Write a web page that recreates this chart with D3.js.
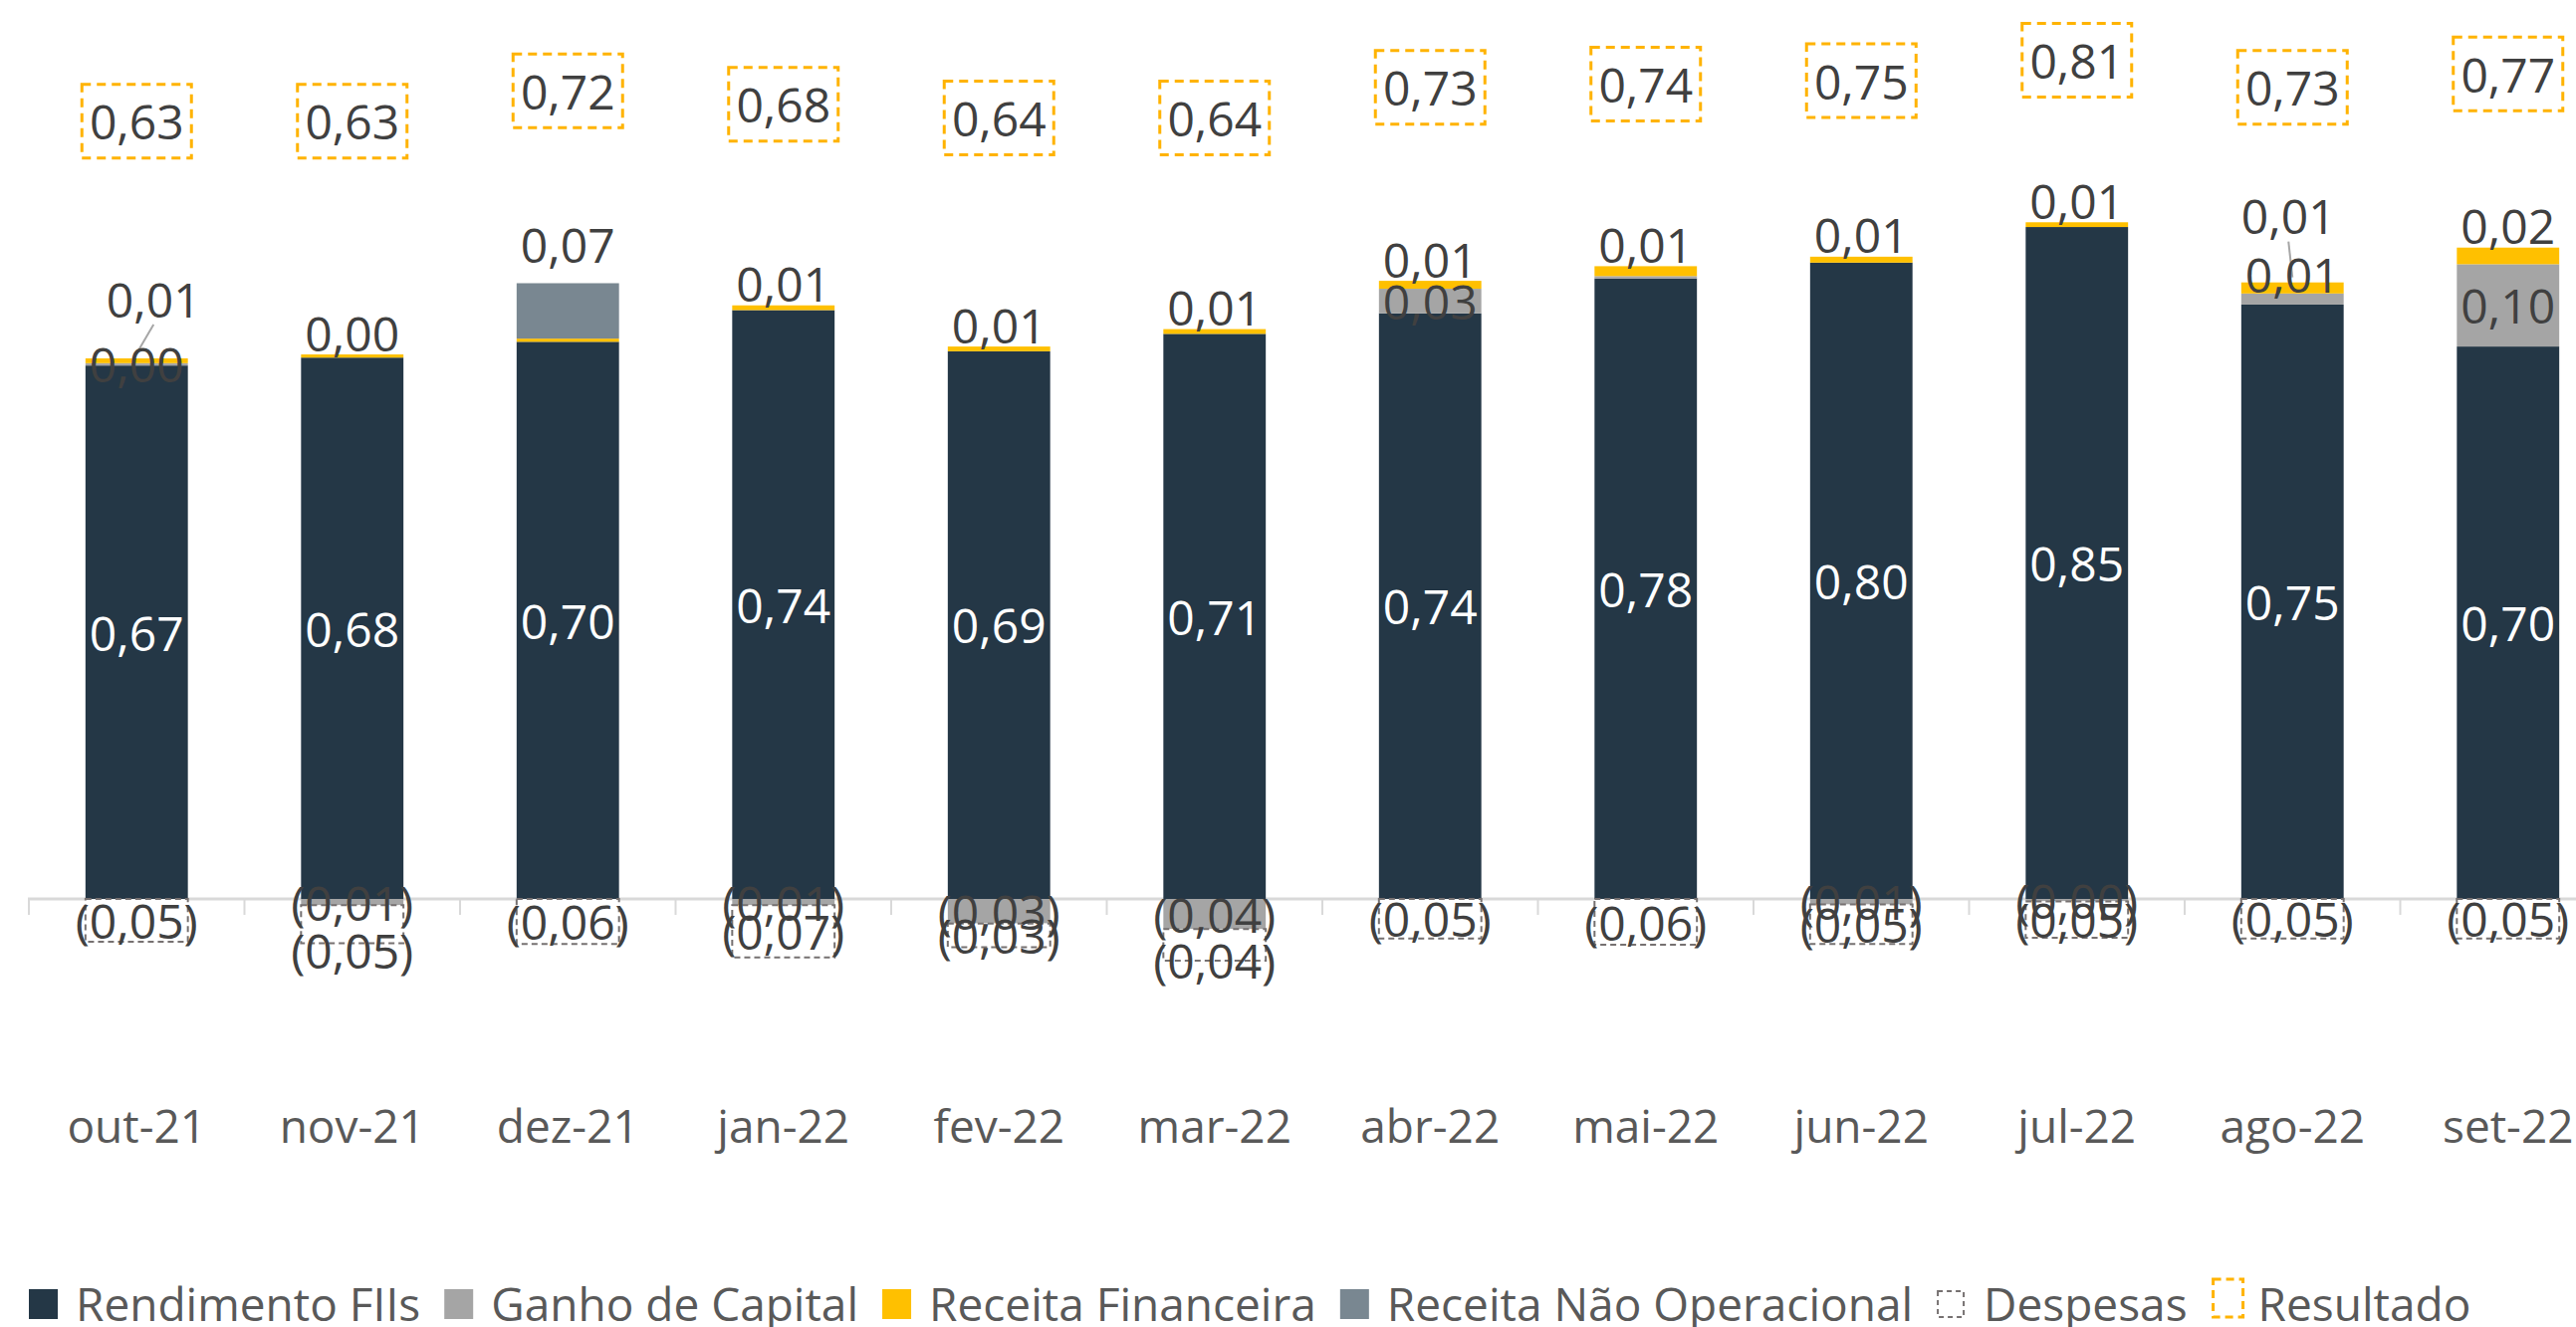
<!DOCTYPE html>
<html>
<head>
<meta charset="utf-8">
<style>
  body { margin: 0; background: #fff; }
  svg { display: block; font-family: "Open Sans", sans-serif; }
</style>
</head>
<body>
<svg id="chart"></svg>
<script src="https://cdn.jsdelivr.net/npm/d3@7"></script>
<script>
// data
const months = ["out-21", "nov-21", "dez-21", "jan-22", "fev-22", "mar-22", "abr-22", "mai-22", "jun-22", "jul-22", "ago-22", "set-22"];
const rendimento = [0.674, 0.684, 0.704, 0.744, 0.692, 0.714, 0.740, 0.784, 0.804, 0.849, 0.751, 0.698];
const ganhoCapital = [0.003, -0.008, 0, -0.008, -0.031, -0.038, 0.031, 0.003, -0.007, -0.003, 0.014, 0.104];
const receitaFin = [0.006, 0.004, 0.004, 0.006, 0.006, 0.006, 0.010, 0.0125, 0.0075, 0.006, 0.014, 0.021];
const receitaNaoOp = [0, 0, 0.070, 0, 0, 0, 0, 0, 0, 0, 0, 0];
const despesas = [-0.054, -0.048, -0.057, -0.066, -0.030, -0.040, -0.050, -0.058, -0.050, -0.046, -0.050, -0.050];
const resultado = [0.63, 0.63, 0.72, 0.68, 0.64, 0.64, 0.73, 0.74, 0.75, 0.81, 0.73, 0.77];

const W = 2587, H = 1333;
const svg = d3.select("#chart").attr("width", W).attr("height", H).attr("viewBox", `0 0 ${W} ${H}`);

const keys = ["rend", "ganho", "rf", "rno", "desp"];
const colors = { rend: "#243746", ganho: "#A5A5A5", rf: "#FFC000", rno: "#798791", desp: "none" };
const names = { rend: "Rendimento FIIs", ganho: "Ganho de Capital", rf: "Receita Financeira", rno: "Receita Não Operacional", desp: "Despesas", res: "Resultado" };

const table = months.map((m, i) => ({
  month: m, rend: rendimento[i], ganho: ganhoCapital[i], rf: receitaFin[i],
  rno: receitaNaoOp[i], desp: despesas[i], res: resultado[i]
}));

const stacked = d3.stack().keys(keys).offset(d3.stackOffsetDiverging)(table);

const x = d3.scaleBand().domain(months).range([29, 29 + 12 * 216.5]).paddingInner(0.525).paddingOuter(0.2625);
const y = d3.scaleLinear().domain([-0.1, 1]).range([903 + 79.5, 903 - 795]);
const y2 = d3.scaleLinear().domain([0, 1]).range([336, -4]);

const fmt = v => {
  const s = d3.format(".2f")(Math.abs(v)).replace(".", ",");
  return v < 0 ? "(" + s + ")" : s;
};

// axis line and ticks
const step = x.step();
svg.append("line").attr("x1", 28).attr("x2", W).attr("y1", y(0)).attr("y2", y(0))
  .attr("stroke", "#D9D9D9").attr("stroke-width", 3);
svg.append("g").selectAll("line").data(months).enter().append("line")
  .attr("x1", d => x(d) - (step - x.bandwidth()) / 2)
  .attr("x2", d => x(d) - (step - x.bandwidth()) / 2)
  .attr("y1", y(0)).attr("y2", y(0) + 16)
  .attr("stroke", "#D9D9D9").attr("stroke-width", 2);

// bars
const series = svg.append("g").selectAll("g").data(stacked).enter().append("g");
series.selectAll("rect").data(s => s.map(p => ({ key: s.key, p }))).enter()
  .filter(d => d.p.data[d.key] !== 0)
  .append("rect")
  .attr("x", d => x(d.p.data.month))
  .attr("width", x.bandwidth())
  .attr("y", d => y(Math.max(d.p[0], d.p[1])))
  .attr("height", d => Math.abs(y(d.p[0]) - y(d.p[1])))
  .attr("fill", d => d.key === "desp" ? "#fff" : colors[d.key])
  .attr("stroke", d => d.key === "desp" ? "#767171" : "none")
  .attr("stroke-width", 2)
  .attr("stroke-dasharray", d => d.key === "desp" ? "6,4" : null);

// label tweaks where labels were moved off their default place
const labelShift = {
  "rf|out-21": [17, -38], "ganho|ago-22": [0, -25], "rf|ago-22": [-4, -45],
  "rno|dez-21": [0, -17], "desp|nov-21": [0, 26], "desp|mar-22": [0, 15]
};
const leaders = ["rf|out-21", "rf|ago-22"];
const hidden = ["rf|dez-21", "ganho|mai-22"];

const labels = [];
stacked.forEach(s => s.forEach(p => {
  const v = p.data[s.key];
  const id = s.key + "|" + p.data.month;
  if (v === 0 || hidden.includes(id)) return;
  const top = y(Math.max(p[0], p[1]));
  let ly;
  if (s.key === "rf" || s.key === "rno") ly = top - 22;
  else ly = (y(p[0]) + y(p[1])) / 2;
  const sh = labelShift[id] || [0, 0];
  labels.push({ id, key: s.key, v, x: x(p.data.month) + x.bandwidth() / 2, y0: top, x1: x(p.data.month) + x.bandwidth() / 2 + sh[0], y1: ly + sh[1] });
}));

svg.append("g").selectAll("line").data(labels.filter(d => leaders.includes(d.id))).enter().append("line")
  .attr("x1", d => d.x).attr("y1", d => d.y0 - 5)
  .attr("x2", d => d.x1).attr("y2", d => d.y1 + 26)
  .attr("stroke", "#A6A6A6").attr("stroke-width", 2);

svg.append("g").selectAll("text").data(labels).enter().append("text")
  .attr("x", d => d.x1).attr("y", d => d.y1)
  .attr("text-anchor", "middle").attr("dominant-baseline", "central")
  .attr("font-size", 48)
  .attr("fill", d => d.key === "rend" ? "#fff" : "#404040")
  .text(d => fmt(d.v));

// resultado boxes
const res = svg.append("g").selectAll("g").data(table).enter().append("g")
  .attr("transform", d => `translate(${x(d.month) + x.bandwidth() / 2},${y2(d.res)})`);
res.append("rect").attr("x", -55).attr("y", -37).attr("width", 110).attr("height", 74)
  .attr("fill", "#fff").attr("stroke", "#FFB300").attr("stroke-width", 3).attr("stroke-dasharray", "9,6");
res.append("text").attr("text-anchor", "middle").attr("dominant-baseline", "central")
  .attr("font-size", 48).attr("fill", "#404040").text(d => fmt(d.res));

// category axis
const xAxis = svg.append("g").attr("transform", "translate(0,1132)")
  .call(d3.axisBottom(x).tickSize(0).tickPadding(0));
xAxis.select(".domain").remove();
xAxis.selectAll("text").attr("font-size", 46).attr("fill", "#595959")
  .attr("font-family", "Open Sans, sans-serif").attr("dy", "0.35em");

// legend
const legendItems = ["rend", "ganho", "rf", "rno", "desp", "res"];
const legend = svg.append("g").attr("transform", "translate(0,1309)");
let lx = 29;
legendItems.forEach(k => {
  const g = legend.append("g").attr("transform", `translate(${lx},0)`);
  if (k === "desp") {
    g.append("rect").attr("x", 1).attr("y", -12).attr("width", 26).attr("height", 26)
      .attr("fill", "#fff").attr("stroke", "#767171").attr("stroke-width", 2).attr("stroke-dasharray", "5,4");
  } else if (k === "res") {
    g.append("rect").attr("x", 2).attr("y", -24).attr("width", 30).attr("height", 38)
      .attr("fill", "#fff").attr("stroke", "#FFB300").attr("stroke-width", 3).attr("stroke-dasharray", "8,5");
  } else {
    g.append("rect").attr("y", -14).attr("width", 29).attr("height", 30).attr("fill", colors[k]);
  }
  const tx = 47;
  const t = g.append("text").attr("x", tx).attr("y", 0).attr("dominant-baseline", "central")
    .attr("font-size", 46).attr("fill", "#595959").text(names[k]);
  lx += tx + t.node().getComputedTextLength() + 24;
});
</script>
</body>
</html>
